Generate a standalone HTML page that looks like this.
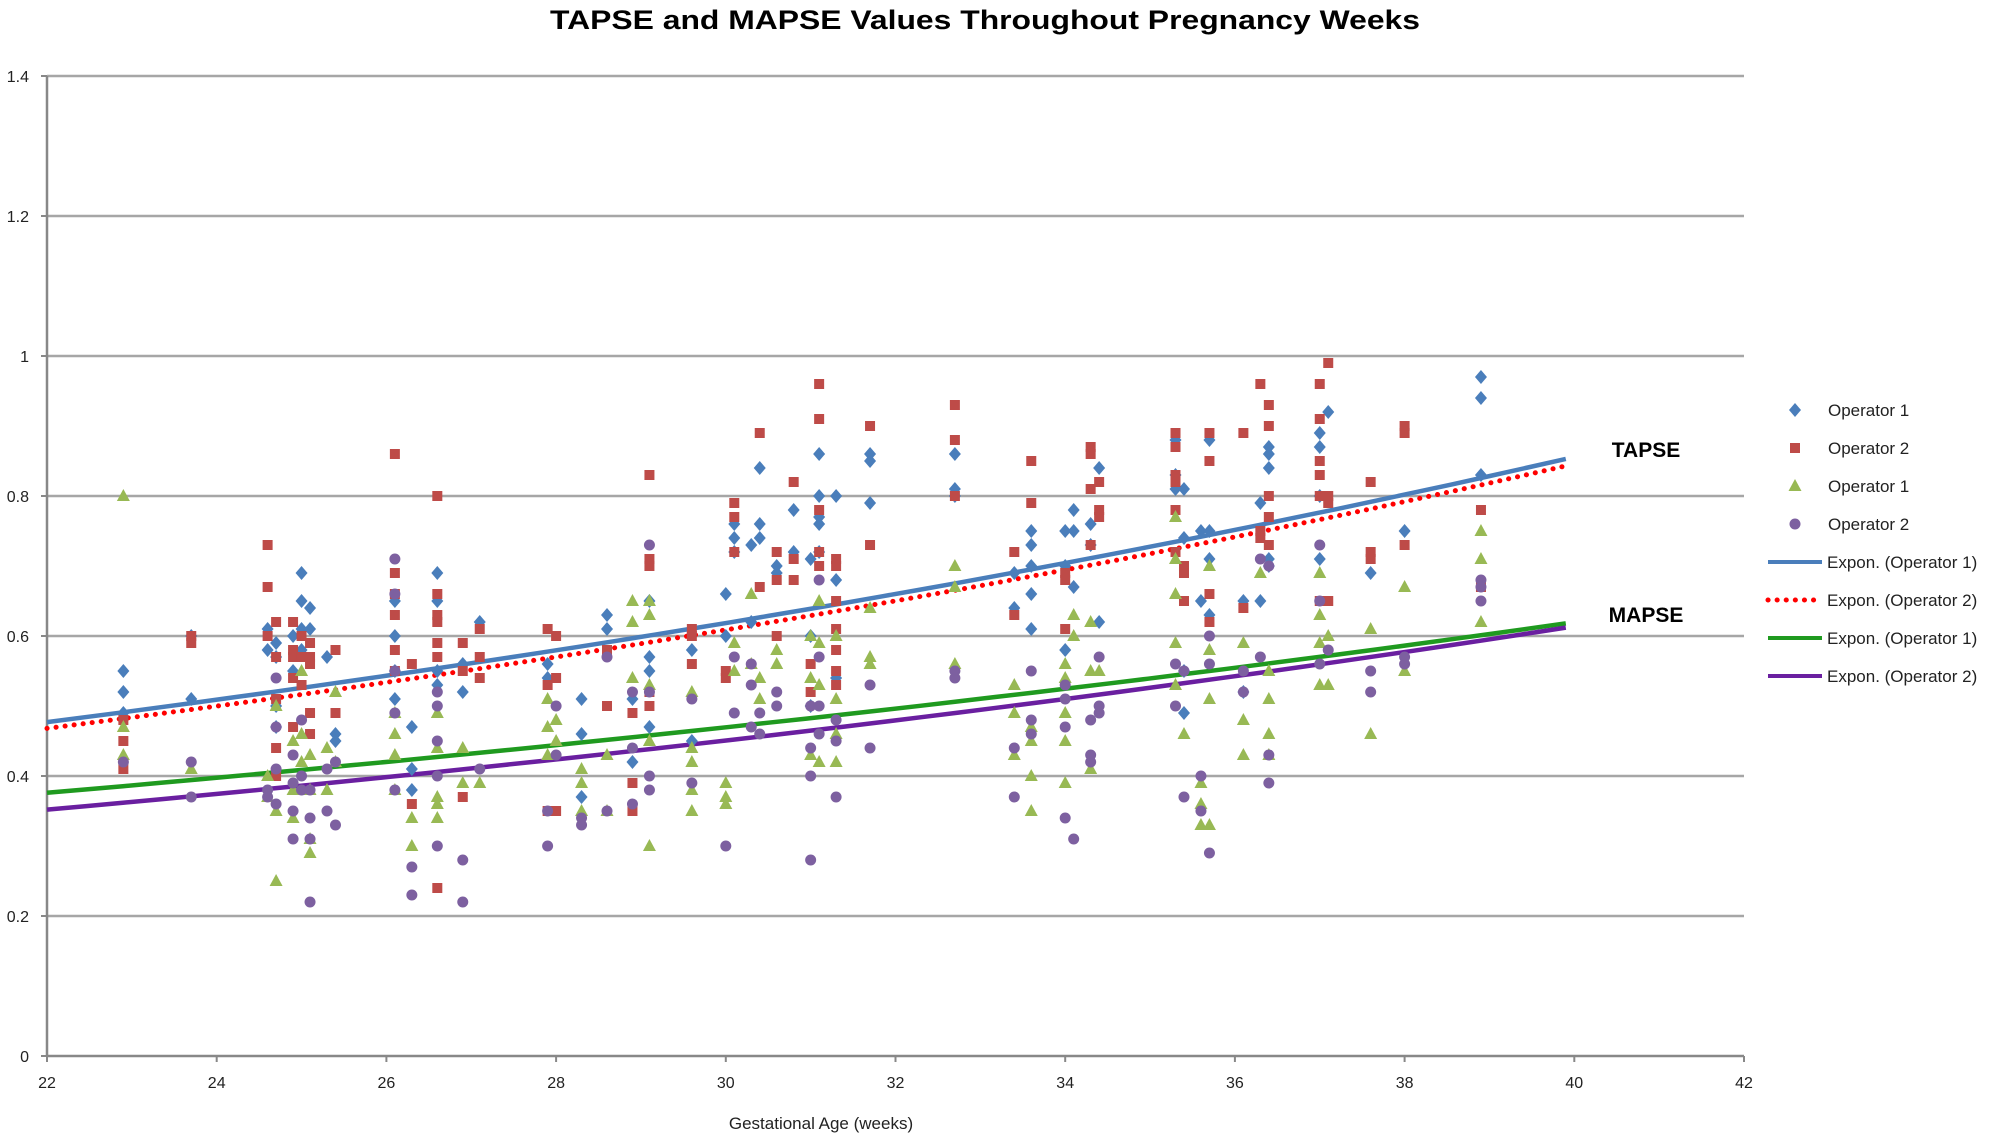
<!DOCTYPE html>
<html><head><meta charset="utf-8"><style>
html,body{margin:0;padding:0;background:#fff;}
svg text{font-family:"Liberation Sans",sans-serif;}
</style></head><body>
<svg id="chart" width="1996" height="1138" viewBox="0 0 1996 1138" xmlns="http://www.w3.org/2000/svg">
<text x="985" y="29" text-anchor="middle" font-size="27" font-weight="bold" fill="#000" textLength="870" lengthAdjust="spacingAndGlyphs">TAPSE and MAPSE Values Throughout Pregnancy Weeks</text>
<g id="grid"></g><g id="axes"></g><g id="trends"></g><g id="points"></g><g id="legend"></g>
<text x="821" y="1129" text-anchor="middle" font-size="17" fill="#222">Gestational Age (weeks)</text>
<text x="1646" y="457" text-anchor="middle" font-size="21" font-weight="bold" fill="#000">TAPSE</text>
<text x="1646" y="622" text-anchor="middle" font-size="21" font-weight="bold" fill="#000">MAPSE</text>
</svg>
<script>
const xTicks=[22,24,26,28,30,32,34,36,38,40,42];
const yTicks=[0,0.2,0.4,0.6,0.8,1,1.2,1.4];
const yTickLabels=["0","0.2","0.4","0.6","0.8","1","1.2","1.4"];
const seriesNames=["Operator 1","Operator 2","Operator 1","Operator 2"];
const trendNames=["Expon. (Operator 1)","Expon. (Operator 2)","Expon. (Operator 1)","Expon. (Operator 2)"];
const trendX=[22,39.9];
const trendStart=[0.477,0.468,0.376,0.352];
const trendEnd=[0.853,0.843,0.618,0.612];
const colX=[22.9,23.7,24.6,24.7,24.9,25.0,25.1,25.3,25.4,26.1,26.3,26.6,26.9,27.1,27.9,28.0,28.3,28.6,28.9,29.1,29.6,30.0,30.1,30.3,30.4,30.6,30.8,31.0,31.1,31.3,31.7,32.7,33.4,33.6,34.0,34.1,34.3,34.4,35.3,35.4,35.6,35.7,36.1,36.3,36.4,37.0,37.1,37.6,38.0,38.9];
const tapseOp1=[[.55,.52,.49],[.60,.51],[.61,.58],[.59,.57,.5,.47],[.6,.55],[.69,.65,.61,.58],[.64,.61],[.57],[.46,.45],[.65,.6,.55,.51],[.47,.41,.38],[.69,.65,.55,.53],[.56,.52],[.62],[.56,.54],[],[.51,.46,.37],[.63,.61],[.51,.42],[.65,.57,.55,.47],[.58,.45],[.66,.6],[.76,.74,.72],[.73,.62],[.84,.76,.74],[.7,.69],[.78,.72],[.71,.6,.5],[.86,.8,.77,.76,.72],[.8,.68,.54],[.86,.85,.79],[.86,.81,.8],[.69,.64],[.75,.73,.7,.66,.61],[.75,.7,.58],[.78,.75,.67],[.76,.73],[.84,.62],[.88,.83,.81],[.81,.74,.55,.49],[.75,.65],[.88,.75,.71,.63],[.65,.52],[.79,.65],[.87,.86,.84,.71,.7],[.89,.87,.8,.71],[.92],[.69],[.75],[.97,.94,.83]];
const tapseOp2=[[.48,.45,.41],[.6,.59],[.73,.67,.6],[.62,.57,.51,.44,.4],[.62,.58,.57,.54,.47],[.6,.57,.53],[.59,.57,.56,.49,.46],[],[.58,.49],[.86,.69,.66,.63,.58,.55],[.56,.36],[.8,.66,.63,.62,.59,.57,.24],[.59,.55,.37],[.61,.57,.54],[.61,.53,.35],[.6,.54,.35],[],[.58,.5],[.49,.39,.35],[.83,.71,.7,.52,.5],[.61,.6,.56],[.55,.54],[.79,.77,.72],[],[.89,.67],[.72,.68,.6],[.82,.71,.68],[.56,.52],[.96,.91,.78,.72,.7],[.71,.7,.65,.61,.58,.55,.53],[.9,.73],[.93,.88,.8],[.72,.63],[.85,.79],[.69,.68,.61],[],[.87,.86,.81,.73],[.82,.78,.77],[.89,.87,.83,.82,.78,.72],[.7,.69,.65],[],[.89,.85,.66,.62],[.89,.64],[.96,.75,.74],[.93,.9,.8,.77,.73],[.96,.91,.85,.83,.8,.65],[.99,.8,.79,.65],[.82,.72,.71],[.9,.89,.73],[.78,.67]];
const mapseOp1=[[.8,.47,.43],[.41],[.4,.37],[.5,.35,.25],[.45,.38,.34],[.55,.46,.42],[.43,.38,.31,.29],[.44,.38],[.52,.42],[.49,.46,.43,.38],[.34,.3],[.49,.44,.37,.36,.34],[.44,.39],[.39],[.51,.47,.43],[.48,.45],[.41,.39,.35],[.43,.35],[.65,.62,.54],[.65,.63,.53,.45,.3],[.52,.44,.42,.38,.35],[.39,.37,.36],[.59,.55],[.66,.56],[.54,.51],[.58,.56],[],[.6,.54,.43],[.65,.59,.53,.42],[.6,.51,.46,.42],[.64,.57,.56],[.7,.67,.56],[.53,.49,.43],[.47,.45,.4,.35],[.56,.54,.49,.45,.39],[.63,.6],[.62,.55,.41],[.55],[.77,.71,.66,.59,.53],[.46],[.39,.36,.33],[.7,.58,.51,.33],[.59,.48,.43],[.69],[.55,.51,.46,.43],[.69,.63,.59,.53],[.6,.53],[.61,.46],[.67,.55],[.75,.71,.62]];
const mapseOp2=[[.42],[.42,.37],[.38,.37],[.54,.47,.41,.36],[.43,.39,.35,.31],[.48,.4,.38],[.38,.34,.31,.22],[.41,.35],[.42,.33],[.71,.66,.55,.49,.38],[.27,.23],[.52,.5,.45,.4,.3],[.28,.22],[.41],[.35,.3],[.5,.43],[.34,.33],[.57,.35],[.52,.44,.36],[.73,.52,.4,.38],[.51,.39],[.3],[.57,.49],[.56,.53,.47],[.49,.46],[.52,.5],[],[.5,.44,.4,.28],[.68,.57,.5,.46],[.48,.45,.37],[.53,.44],[.55,.54],[.44,.37],[.55,.48,.46],[.53,.51,.47,.34],[.31],[.48,.43,.42],[.57,.5,.49],[.56,.5],[.55,.37],[.4,.35],[.6,.56,.29],[.55,.52],[.71,.57],[.7,.43,.39],[.73,.65,.56],[.58],[.55,.52],[.57,.56],[.68,.67,.65]];

const NS="http://www.w3.org/2000/svg";
const X0=47,X1=1744,Y0=1056,Y1=76;
const sx=v=>X0+(v-22)/(42-22)*(X1-X0);
const sy=v=>Y0-(v-0)/(1.4-0)*(Y0-Y1);
function mk(tag,attrs,parent){const e=document.createElementNS(NS,tag);for(const k in attrs)e.setAttribute(k,attrs[k]);parent.appendChild(e);return e;}
const grid=document.getElementById('grid'),axes=document.getElementById('axes'),trends=document.getElementById('trends'),pts=document.getElementById('points'),leg=document.getElementById('legend');
yTicks.forEach((t,i)=>{
  if(t>0){const g=mk('line',{x1:X0,x2:X1,y1:sy(t),y2:sy(t),stroke:'#a6a6a6','stroke-width':2.5},grid);
  
  }
  const tk=mk('line',{x1:X0-6,x2:X0,y1:sy(t),y2:sy(t),stroke:'#888','stroke-width':2},axes);
  
  
  const tx=mk('text',{x:X0-18,y:sy(t)+6,'text-anchor':'end','font-size':16,fill:'#222'},axes);
  tx.textContent=yTickLabels[i];
  
  
});
const ya=mk('line',{x1:X0,x2:X0,y1:Y1,y2:Y0,stroke:'#888','stroke-width':2.5},axes);


const xa=mk('line',{x1:X0,x2:X1,y1:Y0,y2:Y0,stroke:'#888','stroke-width':2.5},axes);


xTicks.forEach(t=>{
  const tk=mk('line',{x1:sx(t),x2:sx(t),y1:Y0,y2:Y0+6,stroke:'#888','stroke-width':2},axes);
  
  
  const tx=mk('text',{x:sx(t),y:Y0+32,'text-anchor':'middle','font-size':16,fill:'#222'},axes);
  tx.textContent=String(t);
  
  
});
const colors=['#4a7ebb','#be4b48','#98b954','#7d60a0'];
const trendColors=['#4a7ebb','#ff0000','#1f9a1f','#6a1fa0'];
function marker(type,cx,cy,parent){
  if(type===0)return mk('path',{d:`M${cx} ${cy-7}L${cx+6} ${cy}L${cx} ${cy+7}L${cx-6} ${cy}Z`,fill:colors[0]},parent);
  if(type===1)return mk('rect',{x:cx-5,y:cy-5,width:10,height:10,fill:colors[1]},parent);
  if(type===2)return mk('path',{d:`M${cx} ${cy-7}L${cx+6.5} ${cy+5}L${cx-6.5} ${cy+5}Z`,fill:colors[2]},parent);
  return mk('circle',{cx:cx,cy:cy,r:5.5,fill:colors[3]},parent);
}
[tapseOp1,tapseOp2,mapseOp1,mapseOp2].forEach((ser,si)=>{
  ser.forEach((vals,ci)=>vals.forEach(v=>{
    const m=marker(si,sx(colX[ci]),sy(v),pts);
    
    
  }));
});
// exponential trend curves between start and end values
trendStart.forEach((a,i)=>{
  const b=trendEnd[i];let d='';
  for(let k=0;k<=40;k++){const f=k/40;const x=trendX[0]+(trendX[1]-trendX[0])*f;const y=a*Math.pow(b/a,f);d+=(k?'L':'M')+sx(x).toFixed(1)+' '+sy(y).toFixed(1);}
  const attrs={d:d,fill:'none',stroke:trendColors[i],'stroke-width':i===1?4:4.5};
  if(i===1){attrs['stroke-dasharray']='0.1 9';attrs['stroke-linecap']='round';attrs['stroke-width']=5;}
  const p=mk('path',attrs,trends);
  
  
});
const legY=[410,448,486,524,562,600,638,676];
seriesNames.forEach((n,i)=>{
  const m=marker(i,1795,legY[i],leg);
  
  
  const t=mk('text',{x:1828,y:legY[i]+6,'font-size':17,fill:'#222'},leg);t.textContent=n;
  
  
});
trendNames.forEach((n,j)=>{
  const i=j+4;
  const attrs={x1:1768,x2:1822,y1:legY[i],y2:legY[i],stroke:trendColors[j],'stroke-width':4};
  if(j===1){attrs['stroke-dasharray']='0.1 9';attrs['stroke-linecap']='round';attrs['stroke-width']=5;}
  const l=mk('line',attrs,leg);
  
  
  const t=mk('text',{x:1827,y:legY[i]+6,'font-size':17,fill:'#222'},leg);t.textContent=n;
  
  
});
</script>
</body></html>
